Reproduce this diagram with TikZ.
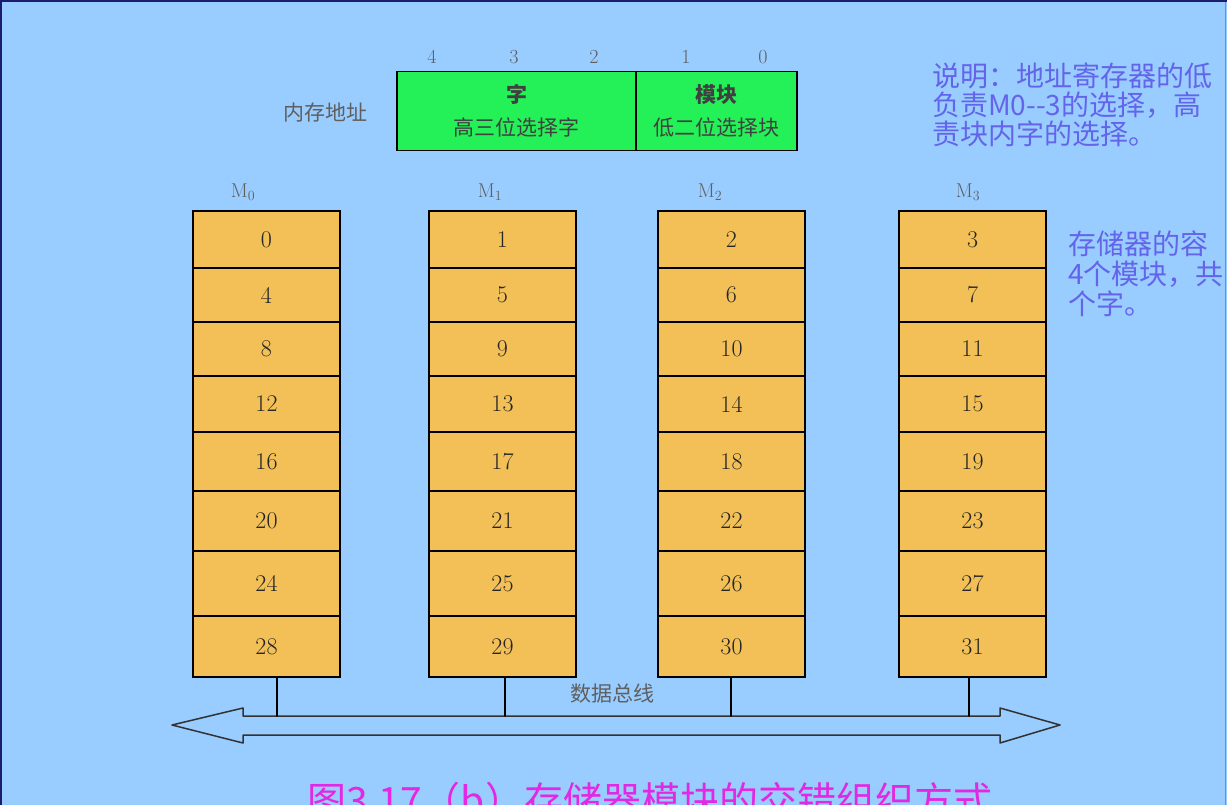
\documentclass[tikz,border=0pt]{standalone}
\usepackage{fontspec}
\usepackage{tkz-euclide}
\newfontfamily\cjk{Noto Sans CJK SC}

\definecolor{bgblue}{RGB}{153,204,255}
\definecolor{cellorange}{RGB}{242,192,86}
\definecolor{reggreen}{RGB}{36,240,88}
\definecolor{framenavy}{RGB}{28,28,110}
\definecolor{edgeblue}{RGB}{110,140,210}
\definecolor{notepurple}{RGB}{100,100,235}
\definecolor{capmagenta}{RGB}{226,40,226}
\definecolor{labelgray}{RGB}{95,95,95}
\definecolor{busgray}{RGB}{50,50,50}

\tikzset{
  cellbox/.style={draw,line width=1.6pt,fill=cellorange,minimum width=147pt,inner sep=0pt,text=black!85,font=\fontsize{24}{28}\selectfont},
  regbox/.style={draw,line width=1.6pt,fill=reggreen,minimum height=79pt,inner sep=0pt,align=center,text=black!75,font=\cjk\fontsize{21}{33}\selectfont},
  graytext/.style={text=labelgray,inner sep=0pt,font=\cjk\fontsize{21}{24}\selectfont},
  bitnum/.style={text=labelgray,inner sep=0pt,font=\fontsize{20}{22}\selectfont},
  modname/.style={text=labelgray,inner sep=0pt,font=\fontsize{20}{22}\selectfont},
  notetext/.style={text=notepurple,inner sep=0pt,anchor=base west,font=\cjk\fontsize{28}{31}\selectfont},
}

\begin{document}
\begin{tikzpicture}[x=1pt,y=-1pt]
\useasboundingbox (0,0) rectangle (1227,805);
\clip (0,0) rectangle (1227,805);
\fill[bgblue] (0,0) rectangle (1227,805);
\draw[framenavy,line width=2.5pt] (1.2,805) -- (1.2,1.2) -- (1227,1.2);
\draw[edgeblue,line width=0.8pt] (1225.5,2) -- (1225.5,805);

% address register
\node[regbox,minimum width=239pt] (word) at (516.5,111) {{\bfseries 字}\\高三位选择字};
\node[regbox,minimum width=161pt] (module) at (716.5,111) {{\bfseries 模块}\\低二位选择块};
\node[graytext] (addr) at (325,113) {内存地址};

\node[bitnum] (bit4) at (432,57) {4};
\node[bitnum] (bit3) at (514,57) {3};
\node[bitnum] (bit2) at (594,57) {2};
\node[bitnum] (bit1) at (686,57) {1};
\node[bitnum] (bit0) at (763,57) {0};

\node[notetext] (note1) at (932,87) {说明：地址寄存器的低};
\node[notetext] (note2) at (932,116) {负责M0-{}-3的选择，高};
\node[notetext] (note3) at (932,145) {责块内字的选择。};

\node[notetext] (size1) at (1068,255) {存储器的容};
\node[notetext] (size2) at (1068,285) {4个模块，共};
\node[notetext] (size3) at (1068,314) {个字。};

% modules
\node[modname] (mod0) at (243,192) {M\textsubscript{0}};
\node[modname] (mod1) at (490,192) {M\textsubscript{1}};
\node[modname] (mod2) at (710,192) {M\textsubscript{2}};
\node[modname] (mod3) at (968,192) {M\textsubscript{3}};

  \node[cellbox,minimum height=57pt] (c0) at (266.5,239.5) {0};
  \node[cellbox,minimum height=54pt] (c4) at (266.5,295) {4};
  \node[cellbox,minimum height=54pt] (c8) at (266.5,349) {8};
  \node[cellbox,minimum height=56pt] (c12) at (266.5,404) {12};
  \node[cellbox,minimum height=59pt] (c16) at (266.5,461.5) {16};
  \node[cellbox,minimum height=60pt] (c20) at (266.5,521) {20};
  \node[cellbox,minimum height=65pt] (c24) at (266.5,583.5) {24};
  \node[cellbox,minimum height=61pt] (c28) at (266.5,646.5) {28};

  \node[cellbox,minimum height=57pt] (c1) at (502.5,239.5) {1};
  \node[cellbox,minimum height=54pt] (c5) at (502.5,295) {5};
  \node[cellbox,minimum height=54pt] (c9) at (502.5,349) {9};
  \node[cellbox,minimum height=56pt] (c13) at (502.5,404) {13};
  \node[cellbox,minimum height=59pt] (c17) at (502.5,461.5) {17};
  \node[cellbox,minimum height=60pt] (c21) at (502.5,521) {21};
  \node[cellbox,minimum height=65pt] (c25) at (502.5,583.5) {25};
  \node[cellbox,minimum height=61pt] (c29) at (502.5,646.5) {29};

  \node[cellbox,minimum height=57pt] (c2) at (731.5,239.5) {2};
  \node[cellbox,minimum height=54pt] (c6) at (731.5,295) {6};
  \node[cellbox,minimum height=54pt] (c10) at (731.5,349) {10};
  \node[cellbox,minimum height=56pt] (c14) at (731.5,404) {14};
  \node[cellbox,minimum height=59pt] (c18) at (731.5,461.5) {18};
  \node[cellbox,minimum height=60pt] (c22) at (731.5,521) {22};
  \node[cellbox,minimum height=65pt] (c26) at (731.5,583.5) {26};
  \node[cellbox,minimum height=61pt] (c30) at (731.5,646.5) {30};

  \node[cellbox,minimum height=57pt] (c3) at (972.5,239.5) {3};
  \node[cellbox,minimum height=54pt] (c7) at (972.5,295) {7};
  \node[cellbox,minimum height=54pt] (c11) at (972.5,349) {11};
  \node[cellbox,minimum height=56pt] (c15) at (972.5,404) {15};
  \node[cellbox,minimum height=59pt] (c19) at (972.5,461.5) {19};
  \node[cellbox,minimum height=60pt] (c23) at (972.5,521) {23};
  \node[cellbox,minimum height=65pt] (c27) at (972.5,583.5) {27};
  \node[cellbox,minimum height=61pt] (c31) at (972.5,646.5) {31};

% data bus
\tkzDefPoint(172,725){LT}
\tkzDefPoint(243,708){LU}
\tkzDefPoint(243,716){LUI}
\tkzDefPoint(1000,716){RUI}
\tkzDefPoint(1000,708){RU}
\tkzDefPoint(1060,725){RT}
\tkzDefPoint(1000,743){RD}
\tkzDefPoint(1000,735){RDI}
\tkzDefPoint(243,735){LDI}
\tkzDefPoint(243,743){LD}
  \tkzDrawPolygon[line width=1.5pt,color=busgray](LT,LU,LUI,RUI,RU,RT,RD,RDI,LDI,LD)

\tkzDefPoint(277,677){T0}
\tkzDefPoint(277,716){B0}
\tkzDefPoint(505,677){T1}
\tkzDefPoint(505,716){B1}
\tkzDefPoint(731,677){T2}
\tkzDefPoint(731,716){B2}
\tkzDefPoint(969,677){T3}
\tkzDefPoint(969,716){B3}

  \tkzDrawSegment[line width=1.5pt](T0,B0)
\tkzDrawSegment[line width=1.5pt](T1,B1)
\tkzDrawSegment[line width=1.5pt](T2,B2)
\tkzDrawSegment[line width=1.5pt](T3,B3)

\node[graytext] (buslabel) at (612,694) {数据总线};

\node[text=capmagenta,anchor=base west,inner sep=0pt,font=\cjk\fontsize{39}{42}\selectfont] (caption) at (307,815) {图3.17（b）存储器模块的交错组织方式};

\end{tikzpicture}
\end{document}
